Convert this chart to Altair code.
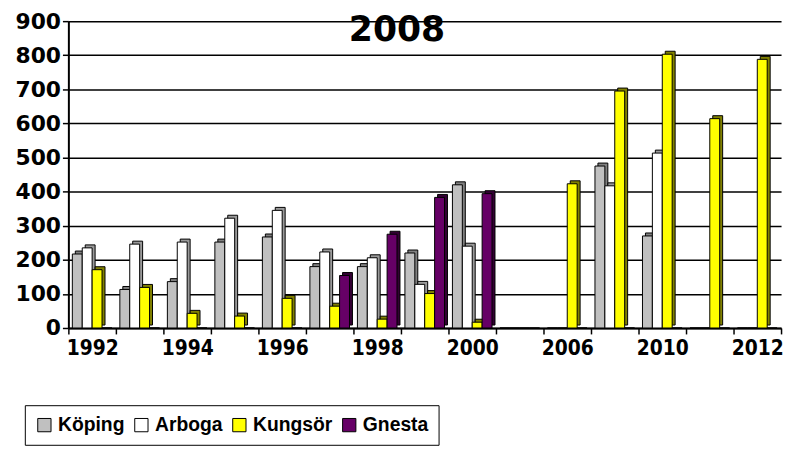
import altair as alt
import pandas as pd

years = ["1992", "1993", "1994", "1995", "1996", "1997", "1998", "1999", "2000",
         "2005", "2006", "2008", "2010", "2011", "2012"]
shown = ["1992", "1994", "1996", "1998", "2000", "2006", "2010", "2012"]
series = ["Köping", "Arboga", "Kungsör", "Gnesta"]
koping = [217, 113, 136, 252, 267, 180, 180, 220, 420, 0, 0, 475, 270, 0, 0]
arboga = [235, 246, 252, 322, 345, 223, 206, 128, 240, 0, 0, 417, 513, 0, 0]
kungsor = [171, 119, 43, 35, 87, 64, 26, 101, 17, 0, 423, 695, 803, 614, 788]
gnesta = [0, 0, 0, 0, 0, 154, 275, 383, 394, 0, 0, 0, 0, 0, 0]
y_ticks = [0, 100, 200, 300, 400, 500, 600, 700, 800, 900]
title_text = ["2008"]

colors = ["#C0C0C0", "#FFFFFF", "#FFFF00", "#660066"]
side_colors = ["#808080", "#9A9A9A", "#808000", "#330033"]

rows = []
for name, vals in zip(series, [koping, arboga, kungsor, gnesta]):
    for yr, v in zip(years, vals):
        rows.append({"year": yr, "town": name, "v": v})
df = pd.DataFrame(rows)
title_df = pd.DataFrame({"t": title_text})

FONT = "DejaVu Sans"
CFONT = "DejaVu Sans Condensed, DejaVu Sans"
LFONT = "Liberation Sans"

shown_js = "[" + ",".join("'%s'" % s for s in shown) + "]"

x = alt.X("year:N", sort=years,
          scale=alt.Scale(paddingInner=0, paddingOuter=0),
          axis=alt.Axis(title=None, labelExpr="indexof(%s, datum.label) >= 0 ? datum.label : ''" % shown_js,
                        tickBand="extent", labelAngle=0, labelFont=CFONT, labelFontSize=21,
                        labelFontWeight="bold", labelColor="black", labelPadding=4,
                        domainColor="black", domainWidth=2, tickColor="black", tickWidth=1.5,
                        tickSize=6, grid=False))
y = alt.Y("v:Q", scale=alt.Scale(domain=[0, 900], nice=False),
          axis=alt.Axis(title=None, values=y_ticks, grid=True, gridColor="black", gridWidth=1.5,
                        domainColor="black", domainWidth=2, tickColor="black", tickWidth=1.5,
                        tickSize=6, labelFont=FONT, labelFontSize=22, labelFontWeight="bold",
                        labelColor="black", labelPadding=2))

base = alt.Chart(df)

side = base.transform_filter("datum.v > 0").mark_bar(
    yOffset=-3, stroke="black", strokeWidth=1, opacity=1
).encode(
    x=x,
    xOffset=alt.XOffset("town:N", sort=series,
                        scale=alt.Scale(domain=series, range=[3, 51], paddingInner=0, paddingOuter=0.4)),
    y=y,
    color=alt.Color("town:N", sort=series, scale=alt.Scale(domain=series, range=side_colors), legend=None),
)

front = base.mark_bar(stroke="black", strokeWidth=1, opacity=1).encode(
    x=x,
    xOffset=alt.XOffset("town:N", sort=series,
                        scale=alt.Scale(domain=series, range=[0, 48], paddingInner=0, paddingOuter=0.4)),
    y=y,
    fill=alt.Fill("town:N", sort=series, scale=alt.Scale(domain=series, range=colors),
                  legend=alt.Legend(title=None, orient="none", legendX=-44, legendY=388,
                                    direction="horizontal", strokeColor="black",
                                    padding=10,
                                    fillColor="white", symbolType="square", symbolSize=180,
                                    symbolStrokeColor="black", symbolStrokeWidth=1,
                                    labelFont=LFONT, labelFontSize=19.5, labelFontWeight="bold",
                                    labelColor="black", columnPadding=7, labelOffset=4,
                                    labelLimit=300)),
)

title_layer = alt.Chart(title_df).mark_text(
    font=FONT, fontSize=35, fontWeight="bold", color="black", baseline="alphabetic", align="center"
).encode(text="t:N", x=alt.value(332), y=alt.value(20))

chart = alt.layer(side, front, title_layer).resolve_scale(color="independent", xOffset="independent").properties(
    width=720, height=310,
    autosize=alt.AutoSizeParams(type="none"),
    padding={"left": 61, "top": 11, "right": 5, "bottom": 123},
).configure_view(strokeWidth=0)

chart.save("out.html", embed_options={"renderer": "svg", "actions": False})
